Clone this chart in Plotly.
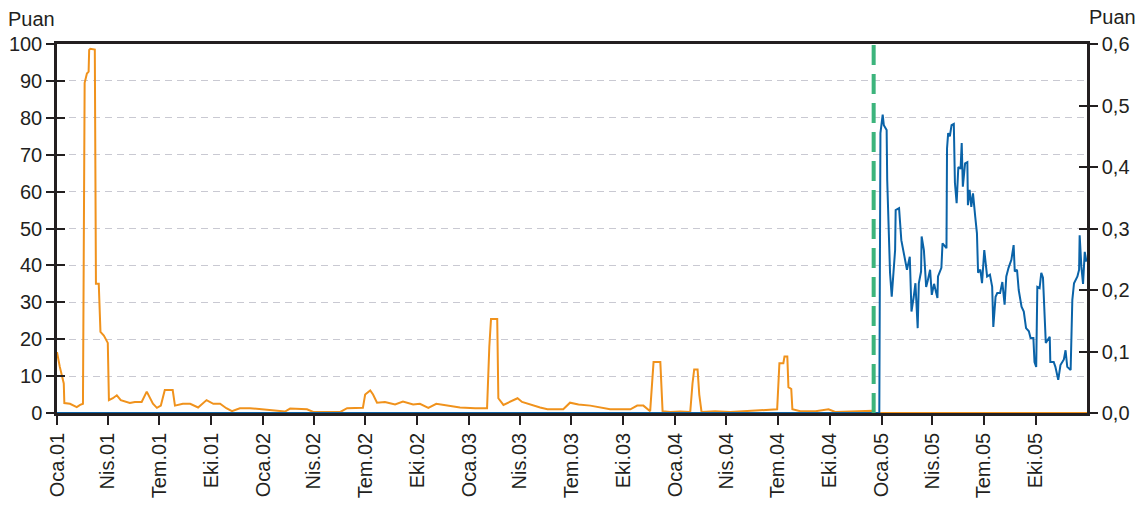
import plotly.graph_objects as go

# ---------------- data ----------------
orange_dates = ["2001-01-01","2001-01-06","2001-01-13","2001-01-14","2001-01-24","2001-02-05","2001-02-11","2001-02-16","2001-02-19","2001-02-23","2001-02-26","2001-02-27","2001-03-01","2001-03-09","2001-03-11","2001-03-16","2001-03-19","2001-03-25","2001-04-01","2001-04-03","2001-04-10","2001-04-17","2001-04-24","2001-05-10","2001-05-19","2001-05-31","2001-06-09","2001-06-15","2001-06-20","2001-06-27","2001-07-04","2001-07-11","2001-07-25","2001-07-29","2001-08-12","2001-08-25","2001-09-08","2001-09-23","2001-10-05","2001-10-17","2001-10-28","2001-11-07","2001-11-21","2001-12-09","2001-12-27","2002-01-08","2002-02-09","2002-02-18","2002-03-08","2002-03-20","2002-03-31","2002-04-30","2002-05-18","2002-05-30","2002-06-27","2002-07-01","2002-07-10","2002-07-15","2002-07-22","2002-08-05","2002-08-23","2002-09-06","2002-09-24","2002-10-06","2002-10-21","2002-11-04","2002-11-29","2002-12-16","2003-01-12","2003-02-02","2003-02-06","2003-02-09","2003-02-20","2003-02-22","2003-03-03","2003-03-15","2003-03-28","2003-04-05","2003-04-20","2003-05-07","2003-05-20","2003-06-17","2003-06-29","2003-07-14","2003-08-04","2003-08-22","2003-09-08","2003-10-14","2003-10-26","2003-11-06","2003-11-18","2003-11-24","2003-12-06","2003-12-10","2003-12-24","2004-01-10","2004-01-28","2004-02-01","2004-02-04","2004-02-10","2004-02-13","2004-02-17","2004-03-12","2004-04-08","2004-05-05","2004-05-31","2004-06-30","2004-07-04","2004-07-11","2004-07-13","2004-07-18","2004-07-20","2004-07-25","2004-07-27","2004-08-10","2004-09-06","2004-09-29","2004-10-11","2004-11-07","2004-12-16","2004-12-19","2005-12-31"]
orange_values = [16.5,12.5,8,2.7,2.5,1.6,2.2,2.5,89.5,92,92.5,98.4,98.7,98.5,35,35,22,21,19,3.5,4,4.8,3.5,2.7,3,3,5.8,4,2.5,1.4,2,6.2,6.2,2,2.5,2.5,1.5,3.5,2.5,2.5,1.3,0.5,1.3,1.3,1.0,0.8,0.4,1.2,1.2,1.0,0.3,0.2,0.3,1.3,1.4,5,6.1,5,2.8,3,2.3,3.1,2.3,2.5,1.4,2.5,2,1.5,1.3,1.3,18,25.5,25.5,4,2.2,3,4,3,2.2,1.5,1,1,2.8,2.3,2,1.5,1,1,2,2,0.5,13.8,13.8,0.5,0.3,0.4,0.3,8,11.8,11.8,5,0.3,0.5,0.3,0.5,0.6,1,13.5,13.5,15.3,15.3,7,6.5,1,0.5,0.5,1,0.3,0.5,0.6,0,0]

blue_dates = ["2001-01-01","2004-12-28","2004-12-30","2005-01-03","2005-01-05","2005-01-10","2005-01-11","2005-01-16","2005-01-19","2005-01-25","2005-01-26","2005-02-01","2005-02-05","2005-02-11","2005-02-15","2005-02-20","2005-02-23","2005-02-27","2005-03-02","2005-03-06","2005-03-08","2005-03-12","2005-03-13","2005-03-17","2005-03-21","2005-03-24","2005-03-28","2005-03-31","2005-04-04","2005-04-10","2005-04-11","2005-04-17","2005-04-19","2005-04-26","2005-04-27","2005-04-29","2005-05-02","2005-05-05","2005-05-09","2005-05-11","2005-05-14","2005-05-17","2005-05-21","2005-05-23","2005-05-25","2005-05-29","2005-06-02","2005-06-03","2005-06-06","2005-06-09","2005-06-12","2005-06-16","2005-06-19","2005-06-21","2005-06-25","2005-06-28","2005-07-02","2005-07-07","2005-07-12","2005-07-16","2005-07-18","2005-07-22","2005-07-25","2005-07-30","2005-08-03","2005-08-07","2005-08-10","2005-08-14","2005-08-19","2005-08-23","2005-08-25","2005-08-29","2005-09-01","2005-09-06","2005-09-10","2005-09-14","2005-09-19","2005-09-22","2005-09-27","2005-09-29","2005-10-02","2005-10-04","2005-10-08","2005-10-11","2005-10-14","2005-10-19","2005-10-23","2005-10-26","2005-10-27","2005-11-02","2005-11-05","2005-11-10","2005-11-14","2005-11-20","2005-11-23","2005-11-26","2005-12-02","2005-12-05","2005-12-08","2005-12-14","2005-12-17","2005-12-18","2005-12-21","2005-12-24","2005-12-27","2005-12-30"]
blue_values = [0,0,0.455,0.485,0.468,0.46,0.379,0.228,0.189,0.265,0.33,0.333,0.281,0.254,0.233,0.254,0.165,0.189,0.211,0.138,0.211,0.23,0.287,0.265,0.205,0.216,0.233,0.192,0.21,0.187,0.222,0.236,0.276,0.268,0.43,0.455,0.45,0.468,0.47,0.374,0.341,0.40,0.397,0.439,0.368,0.406,0.408,0.338,0.363,0.335,0.357,0.319,0.292,0.228,0.233,0.211,0.265,0.222,0.225,0.205,0.14,0.189,0.195,0.195,0.213,0.176,0.222,0.236,0.249,0.273,0.23,0.233,0.2,0.173,0.165,0.138,0.133,0.122,0.122,0.083,0.075,0.205,0.203,0.228,0.22,0.114,0.119,0.124,0.083,0.083,0.075,0.054,0.078,0.087,0.102,0.075,0.07,0.184,0.211,0.222,0.233,0.289,0.238,0.21,0.262,0.246]

tick_dates = ["2001-01-01","2001-04-01","2001-07-01","2001-10-01",
              "2002-01-01","2002-04-01","2002-07-01","2002-10-01",
              "2003-01-01","2003-04-01","2003-07-01","2003-10-01",
              "2004-01-01","2004-04-01","2004-07-01","2004-10-01",
              "2005-01-01","2005-04-01","2005-07-01","2005-10-01"]
tick_labels = ["Oca.01","Nis.01","Tem.01","Eki.01",
               "Oca.02","Nis.02","Tem.02","Eki.02",
               "Oca.03","Nis.03","Tem.03","Eki.03",
               "Oca.04","Nis.04","Tem.04","Eki.04",
               "Oca.05","Nis.05","Tem.05","Eki.05"]
break_date = "2004-12-18"
x_range = ["2001-01-01", "2005-12-31"]
left_unit = "Puan"
right_unit = "Puan"

# ---------------- style ----------------
ORANGE = "#f0921c"
BLUE = "#0a63a8"
GREEN = "#3cb47c"
INK = "#231f20"
FONT = "Liberation Sans, Arial, sans-serif"
FS = 20

fig = go.Figure()
fig.add_trace(go.Scatter(x=orange_dates, y=orange_values, mode="lines",
                         line=dict(color=ORANGE, width=2), yaxis="y",
                         showlegend=False, hoverinfo="skip"))
fig.add_trace(go.Scatter(x=blue_dates, y=blue_values, mode="lines",
                         line=dict(color=BLUE, width=2), yaxis="y2",
                         showlegend=False, hoverinfo="skip"))

fig.add_shape(type="line", xref="x", yref="paper",
              x0=break_date, x1=break_date, y0=0, y1=0.997,
              line=dict(color=GREEN, width=4, dash="20px,9px"), layer="above")

# the page body has an 8px margin, so the figure is sized/positioned to compensate
fig.update_layout(
    width=1140, height=498, autosize=False,
    margin=dict(l=49, r=61, t=36, b=93, autoexpand=False),
    paper_bgcolor="white", plot_bgcolor="white",
    separators=",.",
    font=dict(family=FONT, size=FS, color=INK),
    xaxis=dict(type="date", range=x_range, tickmode="array", automargin=False,
               tickvals=tick_dates, ticktext=tick_labels, tickangle=-90,
               ticks="outside", ticklen=9, tickwidth=2, tickcolor=INK,
               showline=True, linecolor=INK, linewidth=2.5, mirror=True,
               showgrid=False, zeroline=False, layer="below traces",
               tickfont=dict(family=FONT, size=FS, color=INK)),
    yaxis=dict(range=[0, 100], tickmode="linear", tick0=0, dtick=10, automargin=False,
               ticks="outside", ticklen=8, tickwidth=2, tickcolor=INK,
               showline=True, linecolor=INK, linewidth=2.5,
               showgrid=True, gridcolor="#c9c9d2", gridwidth=1, griddash="7px,5px",
               zeroline=False, tickfont=dict(family=FONT, size=FS, color=INK)),
    yaxis2=dict(range=[0, 0.6], overlaying="y", side="right", anchor="x", automargin=False,
                tickmode="linear", tick0=0, dtick=0.1, tickformat=".1f",
                ticks="outside", ticklen=8, tickwidth=2, tickcolor=INK,
                showline=True, linecolor=INK, linewidth=2.5,
                showgrid=False, zeroline=False,
                tickfont=dict(family=FONT, size=FS, color=INK)),
    yaxis3=dict(range=[0, 100], overlaying="y", side="left", anchor="x", automargin=False,
                tickmode="linear", tick0=0, dtick=10,
                ticks="inside", ticklen=8, tickwidth=2, tickcolor=INK,
                showticklabels=False, showline=False, showgrid=False, zeroline=False),
    yaxis4=dict(range=[0, 0.6], overlaying="y", side="right", anchor="x", automargin=False,
                tickmode="linear", tick0=0, dtick=0.1,
                ticks="inside", ticklen=8, tickwidth=2, tickcolor=INK,
                showticklabels=False, showline=False, showgrid=False, zeroline=False),
    annotations=[
        dict(text=left_unit, xref="paper", yref="paper", x=0, y=1.068,
             xanchor="right", yanchor="middle", showarrow=False,
             font=dict(family=FONT, size=FS, color=INK)),
        dict(text=right_unit, xref="paper", yref="paper", x=1, y=1.074,
             xanchor="left", yanchor="middle", showarrow=False,
             font=dict(family=FONT, size=FS, color=INK)),
    ],
)

# invisible traces to activate the tick-only overlay axes
fig.add_trace(go.Scatter(x=[x_range[0]], y=[0], yaxis="y3", mode="markers",
                         marker=dict(opacity=0), showlegend=False, hoverinfo="skip"))
fig.add_trace(go.Scatter(x=[x_range[0]], y=[0], yaxis="y4", mode="markers",
                         marker=dict(opacity=0), showlegend=False, hoverinfo="skip"))

fig.write_html("out.html")
